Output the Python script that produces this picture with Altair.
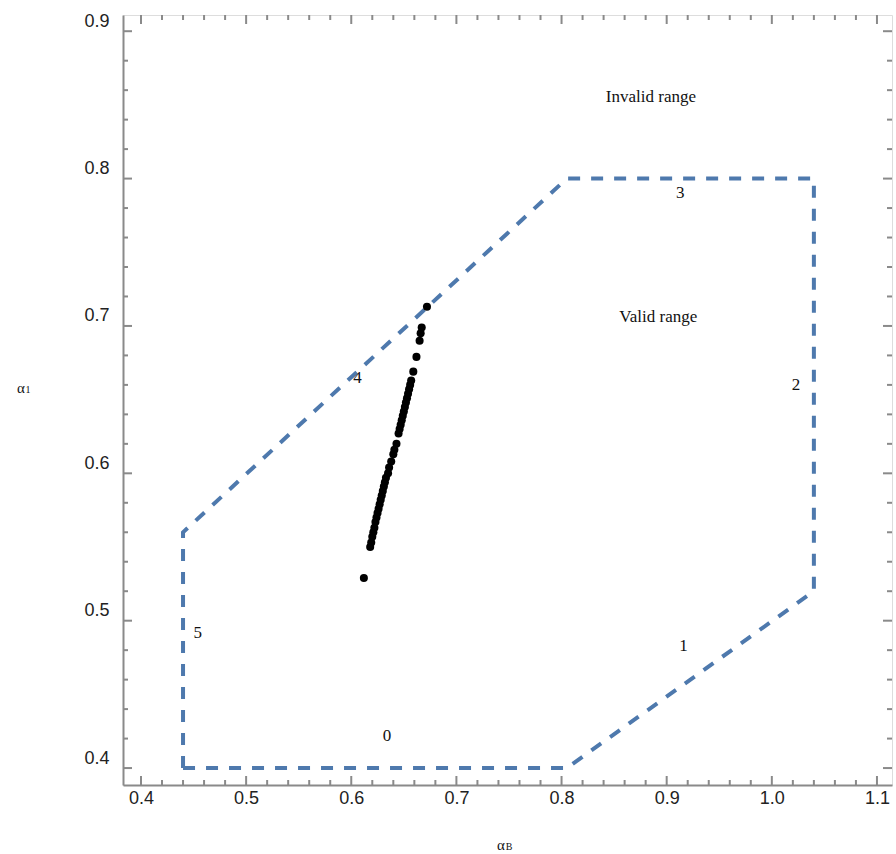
import altair as alt
import pandas as pd
import numpy as np

# ---- data ----
poly_x = [0.44, 0.805, 1.04, 1.04, 0.805, 0.44, 0.44]
poly_y = [0.40, 0.40, 0.52, 0.80, 0.80, 0.56, 0.40]

pts_x = [0.612, 0.618, 0.619, 0.620, 0.621, 0.622, 0.623, 0.624, 0.625, 0.626,
         0.627, 0.628, 0.629, 0.630, 0.631, 0.632, 0.633, 0.635, 0.636, 0.638,
         0.640, 0.641, 0.643, 0.645, 0.646, 0.647, 0.648, 0.649, 0.650, 0.651,
         0.652, 0.653, 0.654, 0.655, 0.656, 0.657, 0.659, 0.662, 0.665, 0.666,
         0.667, 0.672]
pts_y = [0.529, 0.550, 0.553, 0.557, 0.560, 0.563, 0.567, 0.570, 0.573, 0.576,
         0.579, 0.582, 0.585, 0.588, 0.591, 0.594, 0.597, 0.600, 0.604, 0.608,
         0.613, 0.616, 0.620, 0.627, 0.630, 0.633, 0.636, 0.639, 0.642, 0.645,
         0.648, 0.651, 0.654, 0.657, 0.660, 0.663, 0.669, 0.679, 0.690, 0.695,
         0.699, 0.713]

ann_text = ["Invalid range", "Valid range", "0", "1", "2", "3", "4", "5"]
ann_x = [0.885, 0.892, 0.634, 0.916, 1.023, 0.913, 0.606, 0.454]
ann_y = [0.8556, 0.7064, 0.422, 0.483, 0.660, 0.790, 0.665, 0.4915]

x_major = [0.4, 0.5, 0.6, 0.7, 0.8, 0.9, 1.0, 1.1]
y_major = [0.4, 0.5, 0.6, 0.7, 0.8, 0.9]
x_minor = [round(v, 2) for v in np.arange(0.40, 1.11, 0.02) if abs(round(v, 2) * 10 - round(round(v, 2) * 10)) > 1e-6]
y_minor = [round(v, 2) for v in np.arange(0.40, 0.91, 0.02) if abs(round(v, 2) * 10 - round(round(v, 2) * 10)) > 1e-6]

W, H = 769, 770
XDOM = [0.3829, 1.1143]
YDOM = [0.3885, 0.911]
FRAME = "#8a8a8a"
BLUE = "#4e79ad"

xs = alt.Scale(domain=XDOM, nice=False, zero=False)
ys = alt.Scale(domain=YDOM, nice=False, zero=False)

poly_df = pd.DataFrame({"x": poly_x, "y": poly_y, "o": list(range(len(poly_x)))})
pts_df = pd.DataFrame({"x": pts_x, "y": pts_y})
ann_df = pd.DataFrame({"x": ann_x, "y": ann_y, "t": ann_text})

xaxis = alt.Axis(values=x_major, format=".1f", ticks=False, grid=False,
                 domainColor=FRAME, domainWidth=2, labelFont="Liberation Sans",
                 labelFontSize=18, labelColor="#222", labelPadding=4, title=None,
                 labelFlush=False)
yaxis = alt.Axis(values=y_major, format=".1f", ticks=False, grid=False,
                 domainColor=FRAME, domainWidth=2, labelFont="Liberation Sans",
                 labelFontSize=18, labelColor="#222", labelPadding=14, labelOffset=-10,
                 title=None, labelFlush=False)

base_poly = alt.Chart(poly_df).mark_line(
    color=BLUE, strokeWidth=4, strokeDash=[12, 11], strokeCap="butt", clip=True
).encode(
    x=alt.X("x:Q", scale=xs, axis=xaxis),
    y=alt.Y("y:Q", scale=ys, axis=yaxis),
    order="o:Q",
)

points = alt.Chart(pts_df).mark_circle(color="black", opacity=1, size=65).encode(
    x=alt.X("x:Q", scale=xs), y=alt.Y("y:Q", scale=ys)
)

ann = alt.Chart(ann_df).mark_text(font="Liberation Serif", fontSize=17, color="#111").encode(
    x=alt.X("x:Q", scale=xs), y=alt.Y("y:Q", scale=ys), text="t:N"
)

def xticks(vals, length):
    df = pd.DataFrame({"x": vals})
    bottom = alt.Chart(df).mark_rule(color=FRAME, strokeWidth=2).encode(
        x=alt.X("x:Q", scale=xs), y=alt.value(H), y2=alt.value(H - length))
    top = alt.Chart(df).mark_rule(color=FRAME, strokeWidth=2).encode(
        x=alt.X("x:Q", scale=xs), y=alt.value(0), y2=alt.value(length))
    return [bottom, top]

def yticks(vals, length):
    df = pd.DataFrame({"y": vals})
    left = alt.Chart(df).mark_rule(color=FRAME, strokeWidth=2).encode(
        y=alt.Y("y:Q", scale=ys), x=alt.value(0), x2=alt.value(length))
    right = alt.Chart(df).mark_rule(color=FRAME, strokeWidth=2).encode(
        y=alt.Y("y:Q", scale=ys), x=alt.value(W), x2=alt.value(W - length))
    return [left, right]

tick_layers = xticks(x_major, 9) + xticks(x_minor, 5) + yticks(y_major, 9) + yticks(y_minor, 5)

# axis titles (alpha with subscript)
ttl_df = pd.DataFrame({"t": ["α", "B", "α", "1"],
                       "px": [378, 386, -102, -95],
                       "py": [830, 832, 373, 375],
                       "fs": [15, 10, 15, 10]})
titles = alt.Chart(ttl_df).mark_text(font="Liberation Serif", color="#111", align="center").encode(
    x=alt.X("px:Q", scale=None), y=alt.Y("py:Q", scale=None), text="t:N",
    size=alt.Size("fs:Q", scale=None, legend=None)
)

chart = alt.layer(base_poly, *tick_layers, points, ann, titles).properties(
    width=W, height=H,
    autosize=alt.AutoSizeParams(type="none"),
    padding={"left": 123, "top": 15, "right": 4, "bottom": 69},
).configure_view(stroke=FRAME, strokeWidth=2).configure(background="white")

chart.save("out.html", embed_options={"renderer": "svg", "actions": False})
